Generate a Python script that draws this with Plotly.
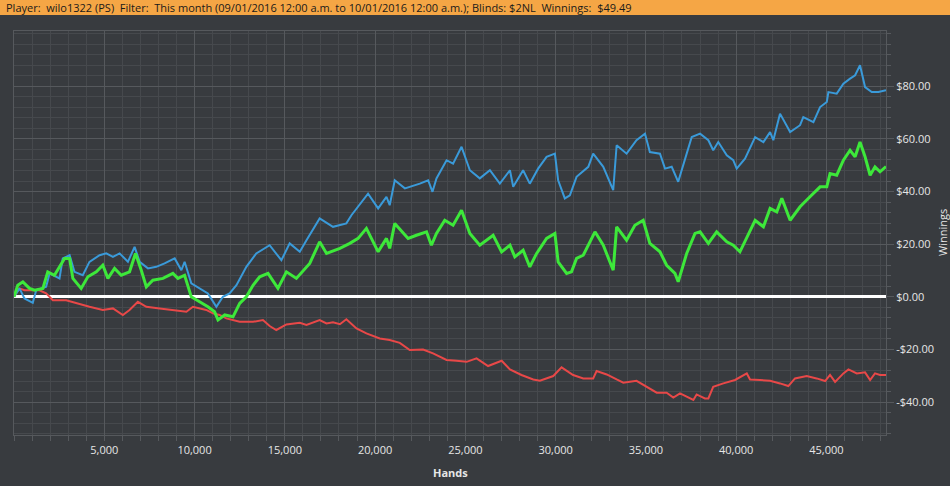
import plotly.graph_objects as go

# ---- data ----
blue_hands = [0, 305, 580, 1040, 1230, 1780, 1970, 2520, 2700, 3080, 3350, 3810, 4180, 4740, 5110, 5480,
              5850, 6310, 6680, 6960, 7420, 7880, 8340, 8900, 9270, 9450, 9820, 10280, 10740, 11210, 11570,
              11940, 12320, 12870, 13420, 14160, 14810, 15270, 15830, 16200, 16930, 17670, 18410, 18690,
              19610, 20170, 20630, 20810, 21090, 21650, 22480, 22940, 23180, 23400, 23960, 24320, 24790,
              25250, 25800, 26360, 26910, 27470, 27650, 28200, 28570, 29030, 29500, 29960, 30140, 30510,
              30790, 31160, 31350, 31810, 32080, 32640, 33190, 33380, 33930, 34480, 34950, 35220, 35780,
              36060, 36430, 36790, 37260, 37540, 38000, 38460, 38730, 39010, 39480, 39840, 40030, 40490,
              41050, 41510, 41880, 42060, 42430, 42990, 43540, 43720, 44280, 44650, 45020, 45110, 45570,
              45940, 46310, 46590, 46860, 47140, 47510, 47880, 48300]
blue_vals = [0, 3.2, -0.6, -2.3, 2.5, 3.8, 8.9, 7.0, 14.6, 15.8, 9.5, 8.2, 13.3, 15.8, 16.5, 15.2,
             16.5, 13.3, 19.0, 13.3, 10.8, 11.4, 12.7, 14.6, 10.1, 13.3, 5.1, 3.2, 1.3, -3.8, 0,
             1.3, 4.4, 11.4, 16.5, 19.6, 13.9, 20.3, 17.1, 21.5, 29.8, 26.6, 27.9, 31.0,
             39.2, 33.6, 38.0, 34.8, 44.3, 41.2, 43.0, 44.3, 39.9, 45.0, 51.9, 50.6, 57.0,
             48.1, 45.0, 48.1, 43.0, 48.1, 41.8, 48.1, 43.0, 48.7, 53.2, 54.4, 44.3, 37.4,
             38.6, 45.6, 46.8, 49.4, 54.4, 49.4, 40.5, 57.6, 54.4, 59.5, 62.0, 55.0, 54.4,
             48.7, 49.4, 43.7, 54.4, 60.7, 62.0, 59.5, 55.7, 58.8, 53.8, 51.9, 48.7, 52.5,
             60.7, 58.8, 62.6, 59.5, 69.6, 62.6, 65.2, 68.3, 66.4, 72.1, 74.0, 77.8, 77.2,
             81.0, 82.9, 84.2, 88.0, 79.7, 77.8, 77.8, 78.5]

green_hands = [0, 210, 490, 860, 1140, 1600, 1870, 2240, 2800, 3080, 3260, 3720, 4090, 4560, 4920, 5200,
               5570, 5940, 6400, 6730, 7050, 7330, 7690, 8250, 8800, 9080, 9450, 9820, 10280, 10740, 11110,
               11300, 11670, 12130, 12500, 12870, 13240, 13610, 14070, 14620, 15090, 15640, 16380, 16930,
               17310, 18050, 18600, 19060, 19520, 20170, 20630, 20810, 21090, 21830, 22290, 22850, 23120,
               23400, 23860, 24320, 24790, 25250, 25800, 26540, 27010, 27470, 27740, 28200, 28570, 28950,
               29500, 29960, 30140, 30610, 30880, 31160, 31530, 32180, 32640, 33190, 33380, 33930, 34390,
               34850, 35220, 35780, 36150, 36610, 36790, 37260, 37720, 38000, 38460, 38920, 39480, 39840,
               40210, 40590, 41050, 41510, 41880, 42250, 42530, 42990, 43540, 44090, 44650, 45020, 45200,
               45570, 45940, 46310, 46590, 46860, 47140, 47420, 47690, 47970, 48300]
green_vals = [0, 4.4, 5.7, 3.2, 2.5, 3.2, 9.5, 8.2, 14.6, 14.6, 7.0, 3.2, 7.6, 9.5, 12.0, 7.0,
              10.8, 8.2, 9.5, 16.5, 10.1, 3.8, 6.3, 7.0, 8.9, 7.0, 8.2, 0, -1.9, -3.8, -5.7,
              -8.8, -6.9, -7.6, -2.5, 0, 4.4, 7.6, 8.9, 3.2, 9.5, 7.0, 12.7, 20.9,
              16.5, 18.4, 20.3, 22.2, 26.0, 17.1, 22.2, 18.4, 27.9, 22.2, 23.4, 24.7, 19.6,
              24.1, 29.1, 27.2, 32.9, 24.1, 19.6, 23.4, 17.1, 19.6, 15.2, 17.7, 11.4, 16.5,
              22.2, 24.1, 13.3, 8.9, 9.5, 14.6, 15.8, 24.7, 19.6, 10.1, 26.6, 21.5, 27.2,
              29.1, 20.3, 17.1, 12.0, 8.9, 5.7, 16.5, 24.1, 24.7, 20.3, 24.7, 20.9, 19.6,
              17.1, 22.8, 29.1, 26.6, 33.6, 32.3, 37.4, 29.1, 34.2, 38.0, 41.8, 41.8, 46.8,
              46.2, 51.9, 55.7, 53.2, 58.8, 53.2, 46.2, 49.4, 47.5, 49.5]

red_hands = [0, 305, 580, 1410, 1780, 2150, 2890, 3450, 4180, 4920, 5480, 6030, 6400, 6860, 7330, 8070,
             8800, 9550, 9910, 10280, 10650, 11020, 11390, 11760, 12130, 12500, 12870, 13240, 13790, 14160,
             14530, 15090, 15830, 16200, 16930, 17310, 17670, 18050, 18410, 18970, 19520, 20260, 20810,
             21370, 21920, 22660, 23210, 23960, 24510, 25070, 25620, 26260, 27010, 27470, 28110, 28760,
             29130, 29870, 30330, 30970, 31530, 32080, 32270, 32830, 33380, 33750, 34480, 35040, 35600,
             36150, 36520, 36890, 37630, 37810, 38270, 38460, 38730, 39290, 39940, 40590, 40770, 41320,
             41880, 42430, 42890, 43260, 43910, 44460, 44930, 45200, 45480, 45940, 46220, 46680, 47140,
             47420, 47690, 47970, 48300]
red_vals = [0, 3.2, 2.5, 2.5, 1.3, -1.3, -1.3, -2.5, -3.8, -5.0, -4.4, -6.9, -5.0, -1.9, -3.8, -4.4,
            -5.0, -5.7, -3.8, -4.4, -5.0, -6.3, -6.9, -8.2, -8.8, -9.5, -9.5, -9.5, -8.8, -11.1,
            -12.6, -10.5, -9.9, -10.7, -8.8, -10.1, -9.7, -10.4, -8.5, -12.0, -13.9, -15.8, -16.4,
            -17.5, -20.2, -20.0, -21.5, -24.0, -24.3, -24.7, -23.4, -26.3, -24.3, -27.6, -29.7, -31.4,
            -31.9, -30.1, -26.8, -29.7, -31.0, -31.0, -28.2, -29.5, -31.4, -32.6, -31.9, -34.2, -36.4,
            -36.4, -38.3, -36.7, -39.2, -37.1, -38.6, -38.6, -34.2, -32.9, -31.6, -29.1, -31.4, -31.6,
            -31.9, -32.9, -33.9, -31.0, -30.1, -31.0, -32.0, -29.7, -32.3, -29.1, -27.6, -29.1, -28.7,
            -31.6, -29.1, -29.7, -29.7]

x_tickvals = [5000, 10000, 15000, 20000, 25000, 30000, 35000, 40000, 45000]
y_tickvals = [-40, -20, 0, 20, 40, 60, 80]
y_ticktext = ["-$40.00", "-$20.00", "$0.00", "$20.00", "$40.00", "$60.00", "$80.00"]

header = ("Player:  wilo1322 (PS)  Filter:  This month (09/01/2016 12:00 a.m. to 10/01/2016 12:00 a.m.); "
          "Blinds: $2NL  Winnings:  $49.49")

# ---- styling ----
BG = "#383b3f"
MAJ = "#56595d"
MIN = "#46494d"
FONT = "Open Sans"

fig = go.Figure()
fig.add_trace(go.Scatter(x=red_hands, y=red_vals, mode="lines",
                         line=dict(color="#e84848", width=2), hoverinfo="skip"))
fig.add_trace(go.Scatter(x=blue_hands, y=blue_vals, mode="lines",
                         line=dict(color="#3a9ad9", width=2), hoverinfo="skip"))
fig.add_trace(go.Scatter(x=green_hands, y=green_vals, mode="lines",
                         line=dict(color="#3de83a", width=3), hoverinfo="skip"))

fig.update_layout(
    width=950, height=486,
    margin=dict(l=14, r=64, t=31, b=51),
    paper_bgcolor=BG, plot_bgcolor=BG,
    showlegend=False,
    font=dict(family=FONT, size=11, color="#e6e6e6"),
    xaxis=dict(
        range=[0, 48300],
        tickvals=x_tickvals, tickformat=",d",
        showgrid=True, gridcolor=MAJ, gridwidth=1,
        ticks="outside", ticklen=5, tickcolor=MAJ,
        showline=True, linecolor=MAJ, linewidth=1, mirror=True,
        zeroline=False,
        minor=dict(dtick=1000, tick0=0, showgrid=True, gridcolor=MIN, gridwidth=1,
                   ticks="outside", ticklen=5, tickcolor=MAJ),
        tickfont=dict(size=11, color="#e6e6e6"),
    ),
    yaxis=dict(
        range=[-52.5, 101],
        side="right",
        tickvals=y_tickvals, ticktext=y_ticktext,
        showgrid=True, gridcolor=MAJ, gridwidth=1,
        ticks="outside", ticklen=7, tickcolor=MAJ,
        showline=True, linecolor=MAJ, linewidth=1, mirror=True,
        zeroline=True, zerolinecolor="#ffffff", zerolinewidth=2.5,
        minor=dict(dtick=4, tick0=0, showgrid=True, gridcolor=MIN, gridwidth=1,
                   ticks="outside", ticklen=4, tickcolor=MAJ),
        tickfont=dict(size=11, color="#e6e6e6"),
    ),
    shapes=[dict(type="rect", xref="paper", yref="paper",
                 x0=-14 / 872, x1=1 + 64 / 872, y0=1 + 16 / 404, y1=1 + 31 / 404,
                 fillcolor="#f5a645", line=dict(width=0), layer="above")],
    annotations=[
        dict(text=header, xref="paper", yref="paper", x=-14 / 872, y=1 + 23.5 / 404,
             xanchor="left", yanchor="middle", xshift=4, showarrow=False,
             font=dict(family=FONT, size=11, color="#1a1a1a")),
        dict(text="<b>Hands</b>", xref="paper", yref="paper", x=0.5, y=-37 / 404,
             xanchor="center", yanchor="middle", showarrow=False,
             font=dict(family=FONT, size=11, color="#e6e6e6")),
        dict(text="Winnings", xref="paper", yref="paper", x=1 + 56 / 872, y=0.5,
             xanchor="center", yanchor="middle", textangle=-90, showarrow=False,
             font=dict(family=FONT, size=11, color="#e6e6e6")),
    ],
)

fig.write_html("out.html", config={"displayModeBar": False},
               post_script="document.body.style.margin='0';document.body.style.background='#383b3f';")
